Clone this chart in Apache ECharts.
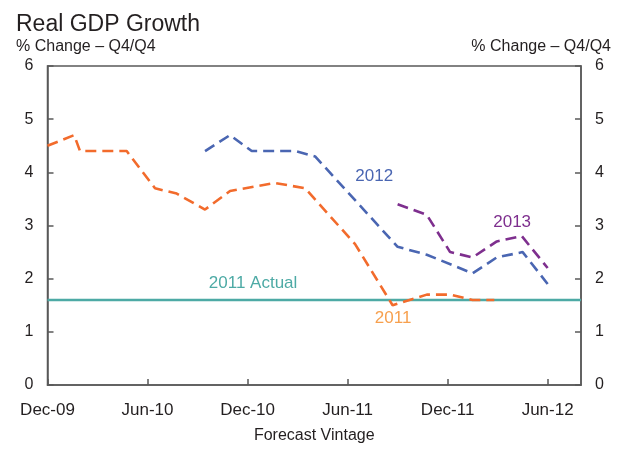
<!DOCTYPE html>
<html>
<head>
<meta charset="utf-8">
<script src="https://cdn.jsdelivr.net/npm/echarts@6/dist/echarts.min.js"></script>
<style>
  html, body { margin: 0; padding: 0; background: #fff; }
  #chart { width: 626px; height: 449px; }
</style>
</head>
<body>
<div id="chart"></div>
<script>
// Months since Dec-09 (x positions of forecast vintages)
const tickLabels = ['Dec-09', 'Jun-10', 'Dec-10', 'Jun-11', 'Dec-11', 'Jun-12'];
const yTicks = [0, 1, 2, 3, 4, 5, 6];

const months2011 = [0, 1.6, 1.95, 4.75, 6.45, 7.75, 9.45, 10.95, 13.65, 15.45, 18.45, 20.7, 22.75, 24.15, 25.5, 26.8];
const gdp2011    = [4.5, 4.7, 4.4, 4.4, 3.7, 3.6, 3.3, 3.65, 3.8, 3.7, 2.65, 1.5, 1.7, 1.7, 1.6, 1.6];

const months2012 = [9.45, 10.95, 12.25, 14.85, 16.05, 21.0, 22.75, 25.5, 26.95, 28.5, 30.0];
const gdp2012    = [4.4, 4.7, 4.4, 4.4, 4.3, 2.6, 2.45, 2.1, 2.4, 2.5, 1.9];

const months2013 = [21.0, 22.75, 24.15, 25.5, 26.95, 28.45, 30.0];
const gdp2013    = [3.4, 3.2, 2.5, 2.4, 2.7, 2.8, 2.2];

const actual2011 = 1.6;
const xRange = [0, 32];

const pairs = (xs, ys) => xs.map((x, i) => [x, ys[i]]);

const ORANGE = '#F26B2C', BLUE = '#4A66B2', PURPLE = '#7E2F8E', TEAL = '#4DAAA5', LORANGE = '#F7A04E';
const AXIS = '#595959', TXT = '#231F20';
const FONT = 'Liberation Sans, Arial, sans-serif';

const chart = echarts.init(document.getElementById('chart'), null, { renderer: 'canvas' });

function yAxisCfg(pos) {
  return {
    type: 'value', position: pos, min: yTicks[0], max: yTicks[yTicks.length - 1], interval: 1,
    axisLine: { show: true, lineStyle: { color: AXIS, width: 1.5 } },
    axisTick: { show: true, inside: true, length: 6, lineStyle: { color: AXIS, width: 1.5 } },
    axisLabel: { color: TXT, fontSize: 16, fontFamily: FONT, margin: 14 },
    splitLine: { show: false }
  };
}

function lbl(text, coord, color) {
  return {
    coord: coord, value: text,
    symbol: 'circle', symbolSize: 1, itemStyle: { color: 'rgba(0,0,0,0)' },
    label: { show: true, position: 'inside', formatter: text, color: color, fontSize: 17, fontFamily: FONT }
  };
}

const option = {
  animation: false,
  backgroundColor: '#fff',
  title: [
    { text: 'Real GDP Growth', left: 11, top: 8, textStyle: { color: TXT, fontSize: 23, fontWeight: 'normal', fontFamily: FONT } },
    { text: '% Change – Q4/Q4', left: 11, top: 34, textStyle: { color: TXT, fontSize: 16, fontWeight: 'normal', fontFamily: FONT } },
    { text: '% Change – Q4/Q4', right: 10, top: 34, textStyle: { color: TXT, fontSize: 16, fontWeight: 'normal', fontFamily: FONT } }
  ],
  grid: { left: 47.5, right: 45, top: 66, bottom: 61.5, show: true, borderColor: AXIS, borderWidth: 1.5, backgroundColor: 'transparent' },
  xAxis: {
    type: 'value', min: xRange[0], max: xRange[1], interval: 6,
    axisLine: { show: true, lineStyle: { color: AXIS, width: 1.5 } },
    axisTick: { show: true, inside: true, length: 6, lineStyle: { color: AXIS, width: 1.5 } },
    axisLabel: {
      color: TXT, fontSize: 17, fontFamily: FONT, margin: 17, showMaxLabel: false,
      formatter: v => (v % 6 === 0 && tickLabels[v / 6]) ? tickLabels[v / 6] : ''
    },
    splitLine: { show: false },
    name: 'Forecast Vintage', nameLocation: 'middle', nameGap: 43,
    nameTextStyle: { color: TXT, fontSize: 16, fontFamily: FONT }
  },
  yAxis: [yAxisCfg('left'), yAxisCfg('right')],
  series: [
    {
      type: 'line', name: '2011 Actual', symbol: 'none', yAxisIndex: 0,
      data: [[xRange[0], actual2011], [xRange[1], actual2011]],
      lineStyle: { color: TEAL, width: 2.5 },
      markPoint: { silent: true, data: [lbl('2011 Actual', [12.33, 1.92], TEAL)] }
    },
    {
      type: 'line', name: '2011', symbol: 'none',
      data: pairs(months2011, gdp2011),
      lineStyle: { color: ORANGE, width: 2.6, type: [11, 6] },
      markPoint: { silent: true, data: [lbl('2011', [20.73, 1.26], LORANGE)] }
    },
    {
      type: 'line', name: '2012', symbol: 'none',
      data: pairs(months2012, gdp2012),
      lineStyle: { color: BLUE, width: 2.6, type: [11, 6] },
      markPoint: { silent: true, data: [lbl('2012', [19.6, 3.93], BLUE)] }
    },
    {
      type: 'line', name: '2013', symbol: 'none',
      data: pairs(months2013, gdp2013),
      lineStyle: { color: PURPLE, width: 2.6, type: [11, 6] },
      markPoint: { silent: true, data: [lbl('2013', [27.87, 3.06], PURPLE)] }
    }
  ]
};
chart.setOption(option);
</script>
</body>
</html>
